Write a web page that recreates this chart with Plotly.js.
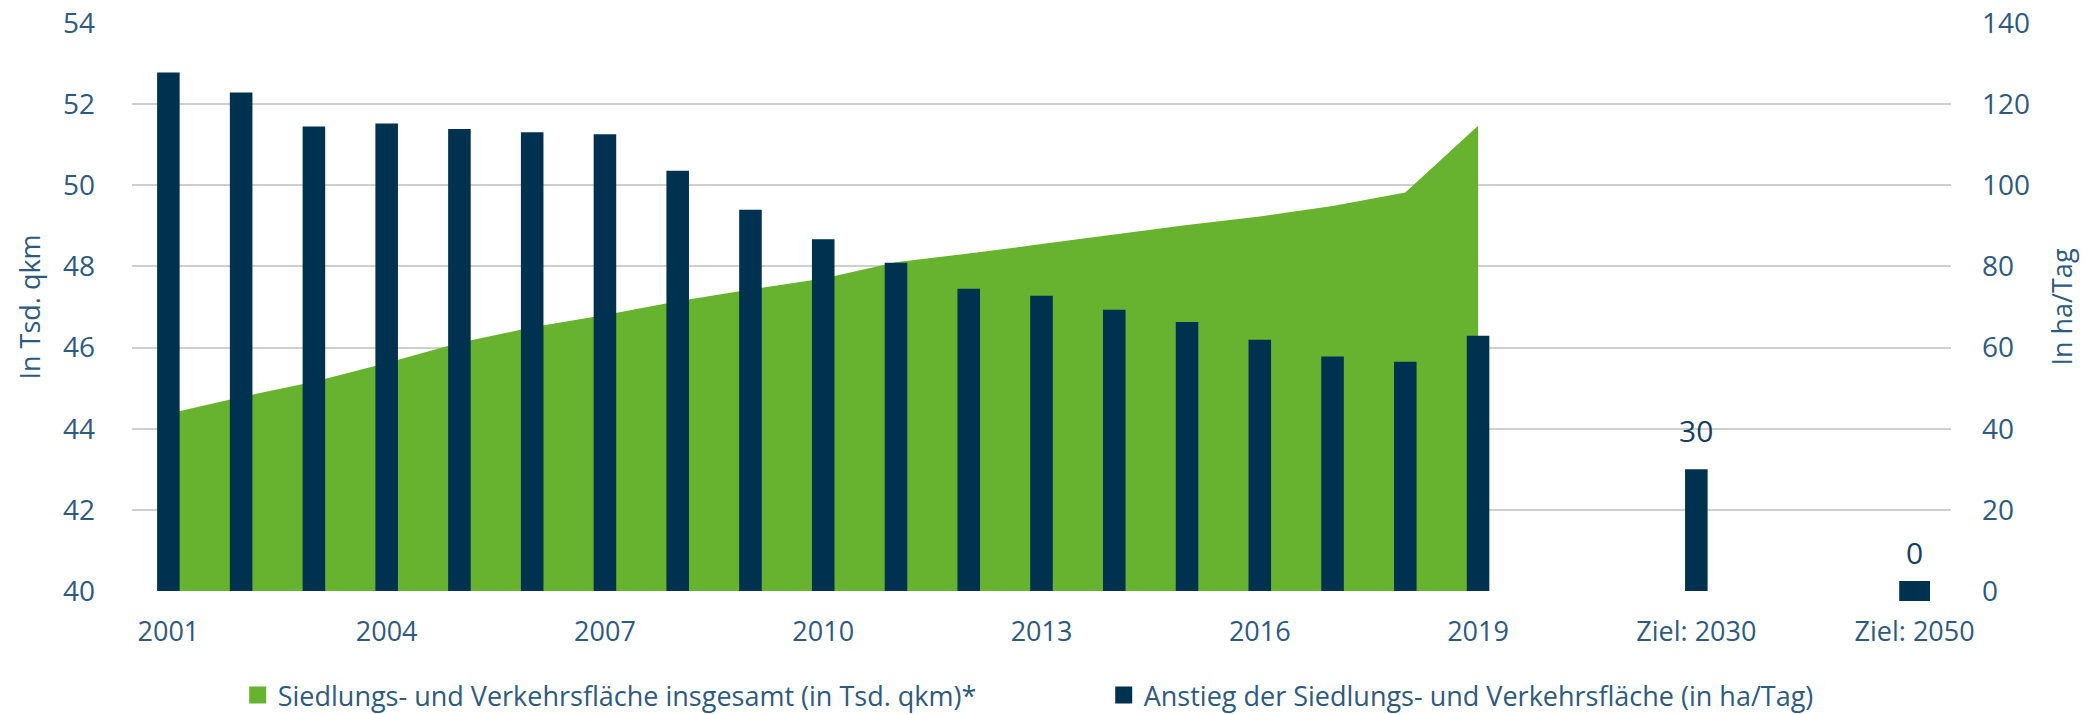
<!DOCTYPE html>
<html>
<head>
<meta charset="utf-8">
<script src="https://cdn.plot.ly/plotly-3.0.1.min.js"></script>
<style>
  html, body { margin: 0; padding: 0; background: #fff; }
  #chart { width: 2088px; height: 714px; }
</style>
</head>
<body>
<div id="chart"></div>
<script>
// category slots (spacer slots keep the gap before the targets)
var categories = ['2001', '2002', '2003', '2004', '2005', '2006', '2007', '2008', '2009', '2010',
  '2011', '2012', '2013', '2014', '2015', '2016', '2017', '2018', '2019',
  ' ', '  ', 'Ziel: 2030', '   ', '    ', 'Ziel: 2050'];

var years = categories.slice(0, 19);

// Siedlungs- und Verkehrsfläche insgesamt, Tsd. qkm
var flaeche = [44.37, 44.78, 45.16, 45.62, 46.12, 46.50, 46.80, 47.14, 47.43, 47.70,
  48.10, 48.32, 48.55, 48.79, 49.02, 49.23, 49.49, 49.82, 51.47];

// Anstieg, ha/Tag
var anstieg = [127.8, 122.9, 114.5, 115.2, 113.9, 113.1, 112.6, 103.6, 94.0, 86.7,
  80.9, 74.5, 72.8, 69.3, 66.3, 61.9, 57.8, 56.5, 62.9];

var ziele = ['Ziel: 2030', 'Ziel: 2050'];
var zielWerte = [30, 0];

var seriesNames = ['Siedlungs- und Verkehrsfläche insgesamt (in Tsd. qkm)*',
  'Anstieg der Siedlungs- und Verkehrsfläche (in ha/Tag)'];

var navy = '#00324f';
var green = '#67b32f';
var textColor = '#2d5a7d';
var font = 'Open Sans, sans-serif';

var area = {
  x: years,
  y: flaeche,
  type: 'scatter',
  mode: 'none',
  fill: 'tozeroy',
  fillcolor: green,
  yaxis: 'y',
  showlegend: false,
  hoverinfo: 'skip'
};

var bars = {
  x: years.concat(ziele),
  y: anstieg.concat(zielWerte),
  type: 'bar',
  marker: {color: navy},
  width: 0.31,
  yaxis: 'y2',
  showlegend: false
};

// legend-only entries, so both swatches are the same bigger square
var legendItems = [green, navy].map(function(c, i) {
  return {
    x: [null], y: [null], type: 'bar', name: seriesNames[i],
    marker: {color: c, line: {color: c, width: 6}},
    yaxis: 'y2'
  };
});

// a zero target is still shown as a small block on the baseline
var nullZiel = ziele.filter(function(z, i) { return zielWerte[i] === 0; });
var zeroMark = {
  x: nullZiel,
  y: nullZiel.map(function() { return 0; }),
  type: 'scatter',
  mode: 'markers',
  marker: {symbol: 'line-ew', size: 22, line: {width: 20, color: navy}},
  yaxis: 'y2',
  cliponaxis: false,
  showlegend: false,
  hoverinfo: 'skip'
};

var labels = ziele.map(function(z, i) {
  return {
    x: z, y: zielWerte[i], xref: 'x', yref: 'y2',
    text: String(zielWerte[i]), showarrow: false,
    yanchor: 'bottom', yshift: 16,
    font: {family: font, size: 30, color: '#163f5f'}
  };
});

var layout = {
  width: 2088,
  height: 714,
  margin: {l: 132, r: 137, t: 23, b: 123, autoexpand: false},
  paper_bgcolor: '#fff',
  plot_bgcolor: '#fff',
  font: {family: font, size: 27, color: textColor},
  barmode: 'overlay',
  showlegend: true,
  legend: {
    orientation: 'h',
    xref: 'container', yref: 'container',
    x: 0.5286, xanchor: 'center',
    y: 0.026, yanchor: 'middle',
    font: {family: font, size: 27, color: textColor},
    entrywidth: 821,
    traceorder: 'normal'
  },
  xaxis: {
    type: 'category',
    categoryorder: 'array',
    categoryarray: categories,
    range: [-0.5, 24.5],
    tickmode: 'linear',
    tick0: 0,
    dtick: 3,
    showgrid: false,
    zeroline: false,
    ticks: '',
    ticklabelstandoff: 22,
    tickfont: {family: font, size: 27, color: textColor}
  },
  yaxis: {
    range: [40, 54],
    dtick: 2,
    gridcolor: '#cfcfcf',
    gridwidth: 2,
    zeroline: false,
    ticks: '',
    ticklabelstandoff: 36,
    tickfont: {family: font, size: 28, color: textColor},
    title: {text: 'In Tsd. qkm', standoff: 14, font: {family: font, size: 27, color: textColor}}
  },
  yaxis2: {
    overlaying: 'y',
    side: 'right',
    range: [0, 140],
    dtick: 20,
    showgrid: false,
    zeroline: false,
    ticks: '',
    ticklabelstandoff: 30,
    tickfont: {family: font, size: 28, color: textColor},
    title: {text: 'In ha/Tag', standoff: 24, font: {family: font, size: 27, color: textColor}}
  },
  annotations: labels
};

Plotly.newPlot('chart', [area, bars].concat(legendItems, [zeroMark]), layout,
  {displayModeBar: false, staticPlot: true});
</script>
</body>
</html>
